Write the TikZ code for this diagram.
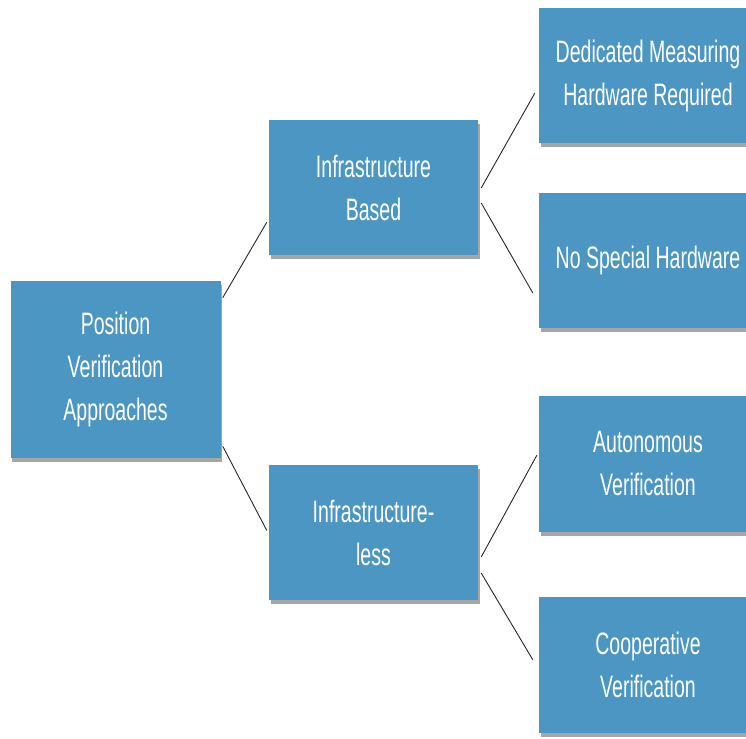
\documentclass[tikz,border=0pt]{standalone}
\usepackage{fontspec}
\setmainfont[FakeStretch=0.63]{Liberation Sans}
\usetikzlibrary{calc,shadows}
\definecolor{boxblue}{RGB}{76,150,195}
\tikzset{
	box/.style={fill=boxblue, draw=none, inner sep=0pt, align=center, text=white,
		font=\fontsize{31}{43}\selectfont,
		drop shadow={shadow xshift=1.5pt, shadow yshift=-4pt, fill=black, opacity=0.35}},
	link/.style={draw=black!85, line width=0.9pt}
}

\begin{document}
\begin{tikzpicture}[x=1pt, y=-1pt]
			%%%%% START %%%%%
			\useasboundingbox (0, 0) rectangle (746, 738);
			
			\node[box, minimum width=210pt, minimum height=177pt] (root) at (115.5, 369.5) {Position\\ Verification\\Approaches};
			
			\node[box, minimum width=209pt, minimum height=135pt] (based) at (373.5, 187.5) {Infrastructure\\Based};
			\node[box, minimum width=209pt, minimum height=135pt] (less) at (373.5, 532.5) {Infrastructure-\\less};
			
			\node[box, minimum width=218pt, minimum height=135pt] (dedicated) at (648, 75.5) {Dedicated Measuring\\Hardware Required};
			\node[box, minimum width=218pt, minimum height=135pt] (nospecial) at (648, 260) {No Special Hardware};
			\node[box, minimum width=218pt, minimum height=136pt] (autonomous) at (648, 463.5) {Autonomous\\Verification};
			\node[box, minimum width=218pt, minimum height=136pt] (cooperative) at (648, 665) {Cooperative\\Verification};
			
			\draw[link] ($(root.north east)+(2, 17)$) -- ($(based.south west)+(-2, -33)$);
			\draw[link] ($(root.south east)+(2, -12)$) -- ($(less.west)+(-2, -2)$);
			
			\draw[link] ($(based.east)+(3, 0.5)$) -- ($(dedicated.south west)+(-4, -50)$);
			\draw[link] ($(based.east)+(3, 15.5)$) -- ($(nospecial.west)+(-6, 33)$);
			
			\draw[link] ($(less.east)+(3, 24.5)$) -- ($(autonomous.north west)+(-2, 60)$);
			\draw[link] ($(less.east)+(3, 40.5)$) -- ($(cooperative.north west)+(-6, 63)$);
			%%%%% END %%%%%
		\end{tikzpicture}
\end{document}
